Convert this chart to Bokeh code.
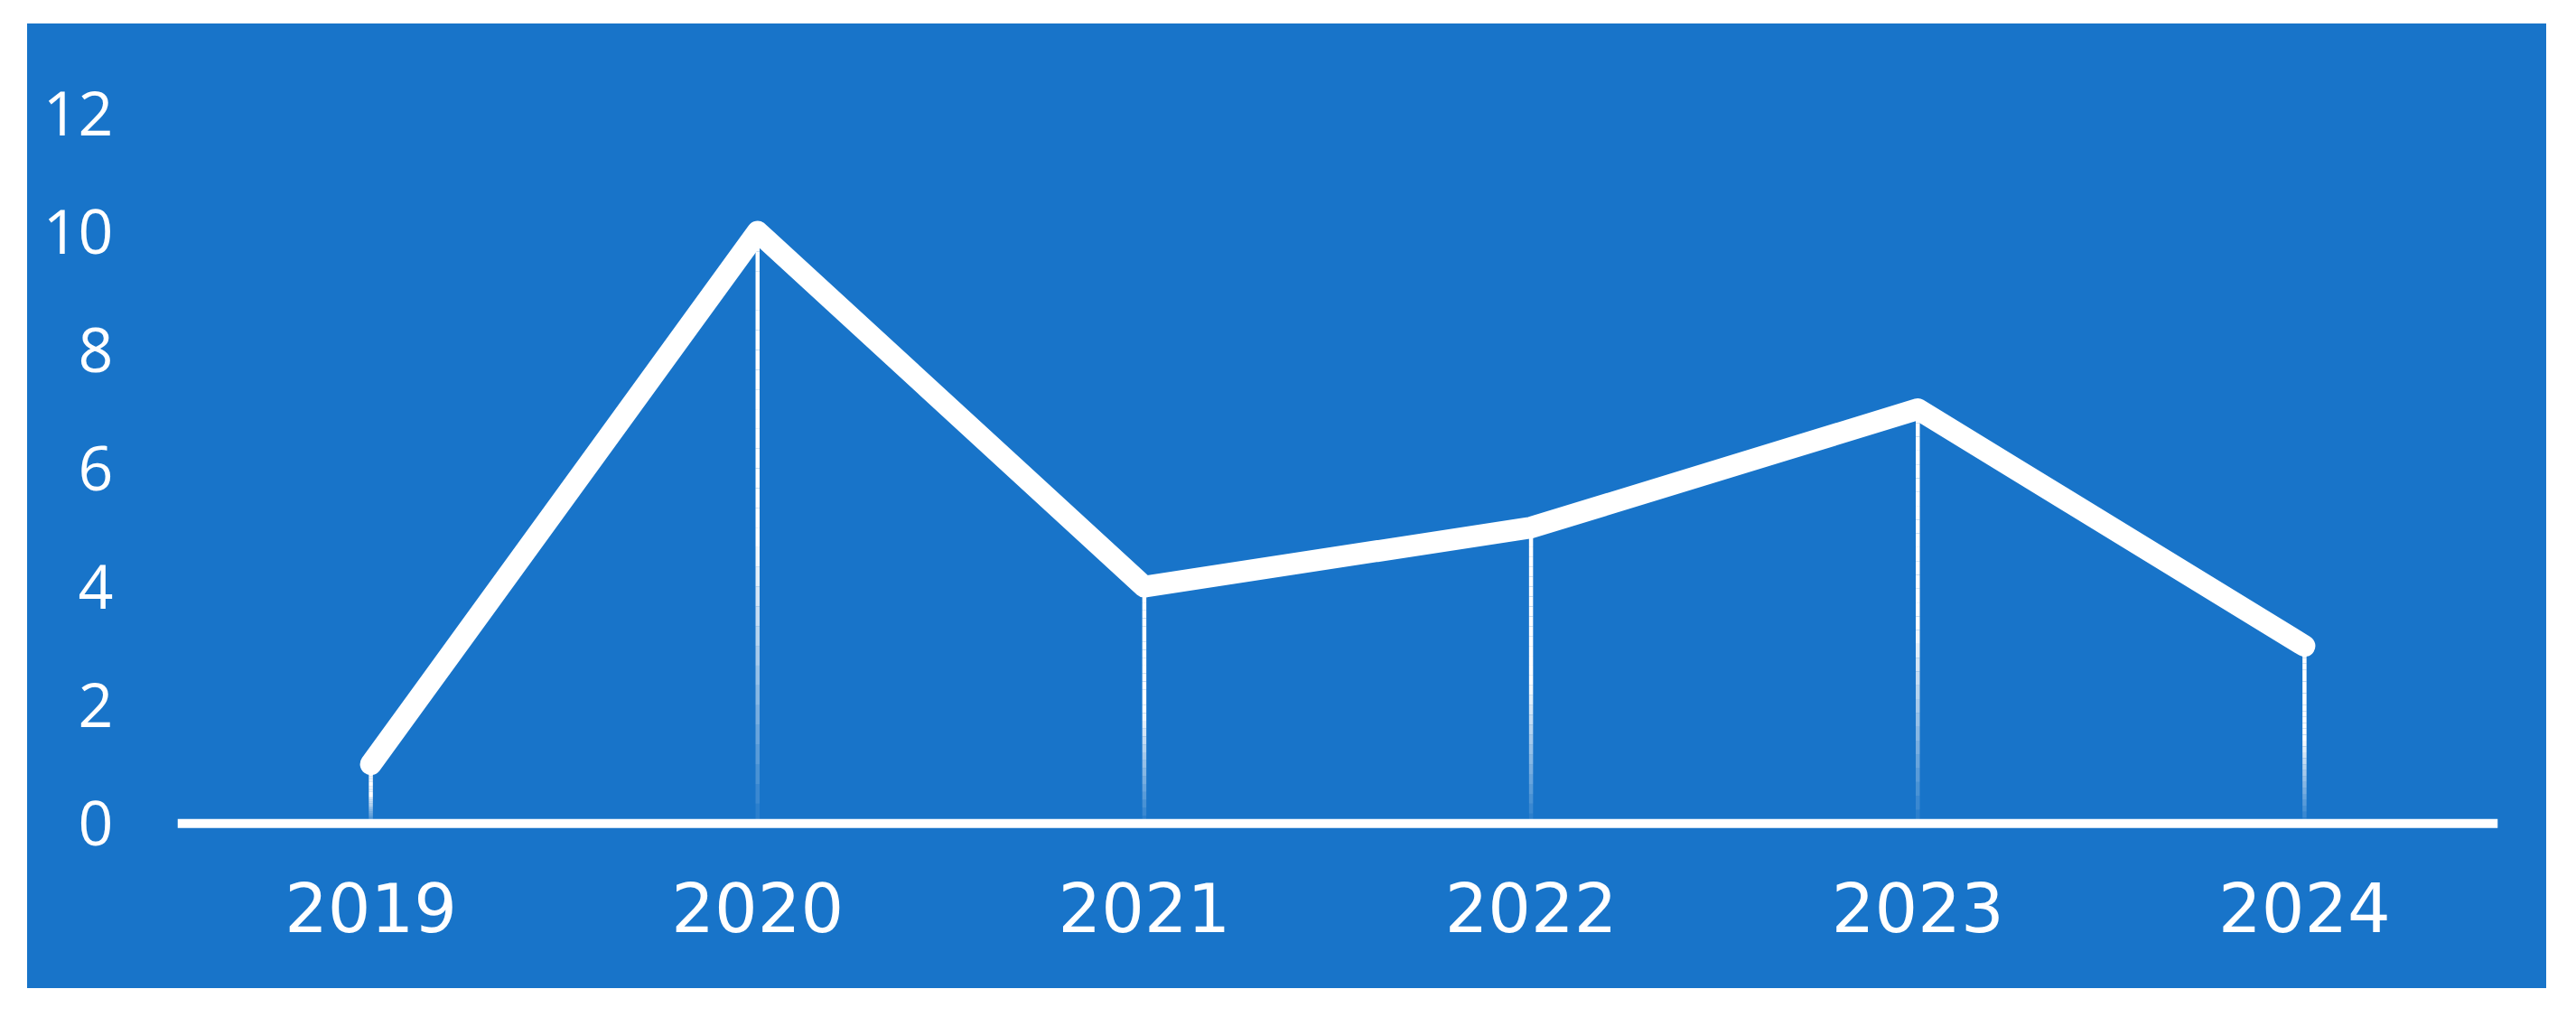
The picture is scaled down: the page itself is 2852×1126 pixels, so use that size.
from bokeh.plotting import figure
from bokeh.models import Span, ColumnDataSource, FixedTicker
from bokeh.embed import file_html
from bokeh.resources import INLINE

# ---- data ----
years = ["2019", "2020", "2021", "2022", "2023", "2024"]
values = [1, 10, 4, 5, 7, 3]
y_ticks = [0, 2, 4, 6, 8, 10, 12]

BLUE = "#1874C9"

p = figure(
    x_range=years, y_range=(-0.15, 12.9),
    width=2789, height=1068,
    output_backend="svg", toolbar_location=None,
    background_fill_color=BLUE, border_fill_color=BLUE,
    min_border_left=166, min_border_right=54,
    min_border_top=40, min_border_bottom=173,
    outline_line_color=None,
)
p.margin = (26, 0, 0, 30)
p.styles = {"background-color": BLUE}

# fading drop lines (pieces derived from the data values)
N = 30
xs, y0s, y1s, alphas = [], [], [], []
for yr, v in zip(years, values):
    for k in range(N):
        t = (k + 0.5) / N
        xs.append(yr)
        y0s.append(v * k / N)
        y1s.append(v * (k + 1) / N)
        alphas.append(min(1.0, 0.05 + t / 0.5))
src = ColumnDataSource(dict(x=xs, y0=y0s, y1=y1s, a=alphas))
p.segment(x0="x", y0="y0", x1="x", y1="y1", source=src,
          line_color="white", line_alpha="a", line_width=4.5, line_cap="butt")

# baseline
p.add_layout(Span(location=0, dimension="width", line_color="white", line_width=10))

# main line
p.line(x=years, y=values, line_color="white", line_width=24,
       line_cap="round", line_join="round")

# axes
p.xgrid.grid_line_color = None
p.ygrid.grid_line_color = None

p.yaxis.ticker = FixedTicker(ticks=y_ticks)
p.yaxis.axis_line_color = None
p.yaxis.major_tick_line_color = None
p.yaxis.minor_tick_line_color = None
p.yaxis.major_tick_out = 0
p.yaxis.major_tick_in = 0
p.yaxis.major_label_standoff = 71
p.yaxis.major_label_text_color = "white"
p.yaxis.major_label_text_font = "Open Sans"
p.yaxis.major_label_text_font_size = "68px"

p.xaxis.axis_line_color = None
p.xaxis.major_tick_line_color = None
p.xaxis.minor_tick_line_color = None
p.xaxis.major_tick_out = 0
p.xaxis.major_tick_in = 0
p.xaxis.major_label_standoff = 55
p.xaxis.major_label_text_color = "white"
p.xaxis.major_label_text_font = "DejaVu Sans"
p.xaxis.major_label_text_font_size = "75px"

open("out.html", "w").write(file_html(p, INLINE))
